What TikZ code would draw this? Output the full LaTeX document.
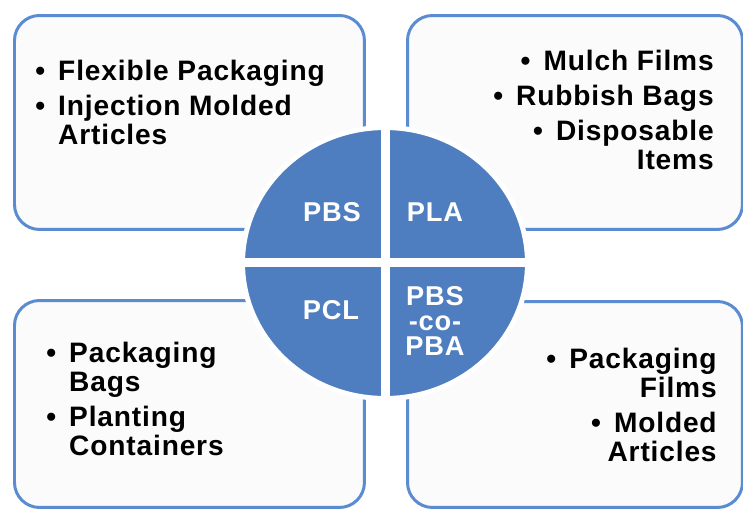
\documentclass[tikz,border=0pt]{standalone}
\usepackage{fontspec}
\setmainfont{Liberation Sans}[LetterSpace=3]
\usepackage{tikz}
\definecolor{rim}{HTML}{5B8BD0}
\definecolor{disc}{HTML}{4F7EC0}
\definecolor{card}{HTML}{FBFBFB}
% bullet with a little extra room after it
\newcommand{\dotitem}{•\hspace{2.5pt} }
\newcommand{\dotskip}{\phantom{\dotitem}}

\tikzset{
  panel/.style={draw=rim, fill=card, line width=0.06cm, rounded corners=0.5cm,
    anchor=north west, inner sep=0pt},
  items/.style={inner sep=0pt, text=black,
    font=\fontsize{16}{16.4}\selectfont\bfseries},
  tag/.style={inner sep=0pt, text=white, align=center,
    font=\fontsize{15.5}{14.4}\selectfont\bfseries}
}

\begin{document}
\begin{tikzpicture}[x=0.02cm, y=-0.02cm]
        \useasboundingbox (0,0) rectangle (743,508);
        % four cards round the disc
        \node[panel, minimum width=7cm, minimum height=4.28cm] (pbsbox) at (13,14) {};
        \node[panel, minimum width=6.7cm, minimum height=4.28cm] (plabox) at (406,14) {};
        \node[panel, minimum width=7cm, minimum height=4.14cm] (pclbox) at (13,299) {};
        \node[panel, minimum width=6.7cm, minimum height=4.12cm] (copbox) at (406,300) {};
        % the disc, cut in quarters
        \filldraw[fill=disc, draw=white, line width=0.1cm] (385,263) ellipse [x radius=2.85cm, y radius=2.71cm];
        \draw[white, line width=0.18cm] (385,118) -- (385,408);
        \draw[white, line width=0.18cm] (238,262.5) -- (532,262.5);
        \node[tag] (pbs) at (332,212) {PBS};
        \node[tag] (pla) at (435,212) {PLA};
        \node[tag] (pcl) at (331,310) {PCL};
        \node[tag] (pbspba) at (435,321) {PBS\\-co-\\PBA};
        % uses of each polymer
        \node[items, align=left, anchor=north west] (pbsuses) at (35,60)
          {\dotitem Flexible Packaging\\[3.4pt] \dotitem Injection Molded\\ \dotskip Articles};
        \node[items, align=right, anchor=north east] (plauses) at (714,50)
          {\dotitem Mulch Films\\[3.4pt] \dotitem Rubbish Bags\\[3.4pt] \dotitem Disposable\\ Items};
        \node[items, align=left, anchor=north west] (pcluses) at (46,342)
          {\dotitem Packaging\\ \dotskip Bags\\[3.4pt] \dotitem Planting\\ \dotskip Containers};
        \node[items, align=right, anchor=north east] (pbspbauses) at (717,348)
          {\dotitem Packaging\\ Films\\[3.4pt] \dotitem Molded\\ Articles};
\end{tikzpicture}
\end{document}
